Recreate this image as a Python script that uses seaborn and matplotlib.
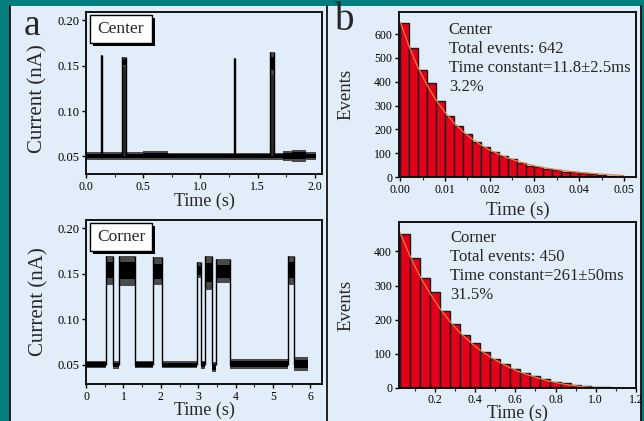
import matplotlib
matplotlib.use("Agg")
import matplotlib.pyplot as plt
import numpy as np
import seaborn as sns
from matplotlib.patches import Rectangle
from matplotlib.lines import Line2D
from matplotlib.ticker import MultipleLocator, FormatStrFormatter

# ---- data ----
# histogram, Center (bin width 2 ms)
center_edges = [i * 0.002 for i in range(26)]
center_counts = [645, 541, 450, 394, 320, 257, 213, 180, 145, 128, 106, 90, 74,
                 60, 48, 40, 35, 28, 22, 19, 18, 11, 10, 4, 2]
center_fit_t = [0.0, 0.002, 0.004, 0.006, 0.008, 0.010, 0.012, 0.014, 0.016, 0.018,
                0.020, 0.024, 0.028, 0.032, 0.036, 0.040, 0.045, 0.050]
center_fit_y = [650, 546, 458, 385, 323, 271, 227, 191, 160, 135,
                113, 80, 56, 39, 28, 19, 12, 6]

# histogram, Corner (bin width 50 ms)
corner_edges = [0.025 + i * 0.05 for i in range(25)]
corner_counts = [451, 382, 323, 280, 226, 188, 155, 132, 104, 84, 71, 57,
                 45, 34, 26, 19, 16, 10, 5, 3, 2, 1, 1, 1]
corner_fit_t = [0.025, 0.075, 0.125, 0.175, 0.225, 0.275, 0.325, 0.375, 0.425, 0.475,
                0.525, 0.575, 0.625, 0.675, 0.725, 0.775, 0.825, 0.875, 0.925, 0.975,
                1.025, 1.1, 1.2]
corner_fit_y = [458, 388, 328, 278, 233, 195, 162, 135, 111, 91,
                74, 59, 46, 36, 27, 19, 13, 8, 5, 2, 1, 0.5, 0]

# current traces: baseline segments (start, end, low, high)
center_base = [(0.0, 0.50, 0.0465, 0.0545), (0.50, 0.72, 0.0460, 0.0555),
               (0.72, 1.72, 0.0465, 0.0540), (1.72, 1.80, 0.0450, 0.0560),
               (1.80, 1.92, 0.0440, 0.0575), (1.92, 2.015, 0.0460, 0.0545)]
# events (rise, fall, plateau low, plateau high)
center_events = [(0.128, 0.141, 0.146, 0.162), (0.318, 0.346, 0.148, 0.160),
                 (1.291, 1.304, 0.148, 0.158), (1.612, 1.646, 0.140, 0.165)]

corner_base = [(0.0, 0.54, 0.0460, 0.0545), (0.73, 0.87, 0.0455, 0.0540),
               (1.31, 1.78, 0.0460, 0.0545), (2.03, 2.96, 0.0460, 0.0540),
               (3.07, 3.17, 0.0455, 0.0545), (3.37, 3.48, 0.0420, 0.0530),
               (3.86, 5.39, 0.0455, 0.0560), (5.55, 5.93, 0.0435, 0.0580)]
corner_events = [(0.54, 0.73, 0.138, 0.170), (0.87, 1.31, 0.137, 0.170),
                 (1.78, 2.03, 0.138, 0.168), (2.96, 3.07, 0.145, 0.163),
                 (3.17, 3.37, 0.132, 0.170), (3.48, 3.86, 0.140, 0.166),
                 (5.39, 5.55, 0.138, 0.170)]

center_note = "Center\nTotal events: 642\nTime constant=11.8\u00b12.5ms\n3.2%"
corner_note = "Corner\nTotal events: 450\nTime constant=261\u00b150ms\n31.5%"

TEAL = "#027f7e"
BG = "#e1edf9"
RED = "#e2001b"
FIT = "#f07a3c"

sns.set_theme(style="ticks")
plt.rcParams["font.family"] = ["Liberation Serif", "DejaVu Serif"]
plt.rcParams["axes.linewidth"] = 1.3
plt.rcParams["xtick.major.width"] = 1.0
plt.rcParams["ytick.major.width"] = 1.0

W, H = 644, 421
fig = plt.figure(figsize=(W / 100, H / 100), dpi=100)
fig.patch.set_facecolor(TEAL)

# light panel + frame lines
fig.add_artist(Rectangle((10 / W, 0), 631 / W, 1 - 6 / H, transform=fig.transFigure,
                         facecolor=BG, edgecolor="none", zorder=0))
for xp in (10, 327, 641):
    fig.add_artist(Line2D([xp / W, xp / W], [0, 1 - 6 / H], transform=fig.transFigure,
                          color="black", lw=1.2))


def px_axes(x0, y0, x1, y1):
    ax = fig.add_axes([x0 / W, 1 - y1 / H, (x1 - x0) / W, (y1 - y0) / H])
    ax.set_facecolor(BG)
    for s in ax.spines.values():
        s.set_visible(True)
        s.set_color("black")
    ax.tick_params(direction="out", length=3, width=1, colors="black", pad=2)
    ax.tick_params(which="minor", direction="out", length=2, width=0.8)
    return ax


def band(ax, t0, t1, lo, hi):
    # fuzzy outer noise envelope plus a dark core
    mid, half = (lo + hi) / 2, (hi - lo) / 2
    ax.fill_between([t0, t1], [lo, lo], [hi, hi], color="#4a4a4a", lw=0)
    ax.fill_between([t0, t1], [mid - 0.55 * half] * 2, [mid + 0.55 * half] * 2,
                    color="black", lw=0)


def draw_trace(ax, base, events, solid=False):
    for t0, t1, lo, hi in base:
        band(ax, t0, t1, lo, hi)
    for t0, t1, lo, hi in events:
        band(ax, t0, t1, lo, hi)
        if solid:
            ax.fill_between([t0, t1], [0.05, 0.05], [lo, lo], color="#2a2a2a", lw=0)
        ax.vlines([t0, t1], 0.050, hi, color="black", lw=1.0)


def tag_box(ax, label, w_px, h_px):
    x0, y_top = 4 / w_px, 1 - 3 / h_px
    bw, bh = 62 / w_px, 28 / h_px
    ax.add_patch(Rectangle((x0 + 3 / w_px, y_top - bh - 3 / h_px), bw, bh,
                           transform=ax.transAxes, facecolor="black", edgecolor="none", zorder=5))
    ax.add_patch(Rectangle((x0, y_top - bh), bw, bh, transform=ax.transAxes,
                           facecolor="white", edgecolor="black", lw=1, zorder=6))
    ax.text(x0 + bw / 2, y_top - bh / 2, label, transform=ax.transAxes, fontsize=12.5,
            ha="center", va="center", zorder=7)


# ---- panel a ----
ax1 = px_axes(86, 12, 322, 174)
draw_trace(ax1, center_base, center_events, solid=True)
ax1.set_xlim(0, 2.064)
ax1.set_ylim(0.0307, 0.209)
ax1.xaxis.set_major_locator(MultipleLocator(0.5))
ax1.xaxis.set_minor_locator(MultipleLocator(0.25))
ax1.xaxis.set_major_formatter(FormatStrFormatter("%.1f"))
ax1.set_yticks([0.05, 0.10, 0.15, 0.20])
ax1.yaxis.set_major_formatter(FormatStrFormatter("%.2f"))
ax1.tick_params(axis="x", labelsize=8.5)
ax1.tick_params(axis="y", labelsize=9)
ax1.set_xlabel("Time (s)", fontsize=13, labelpad=0)
ax1.set_ylabel("Current (nA)", fontsize=15)
ax1.yaxis.set_label_coords(-0.165, 0.465)
tag_box(ax1, "Center", 236, 162)

ax2 = px_axes(86, 220, 322, 384)
draw_trace(ax2, corner_base, corner_events)
ax2.set_xlim(0, 6.31)
ax2.set_ylim(0.0288, 0.2091)
ax2.xaxis.set_major_locator(MultipleLocator(1))
ax2.xaxis.set_minor_locator(MultipleLocator(0.5))
ax2.set_yticks([0.05, 0.10, 0.15, 0.20])
ax2.yaxis.set_major_formatter(FormatStrFormatter("%.2f"))
ax2.tick_params(axis="x", labelsize=8.5)
ax2.tick_params(axis="y", labelsize=9)
ax2.set_xlabel("Time (s)", fontsize=13, labelpad=-1)
ax2.set_ylabel("Current (nA)", fontsize=15)
ax2.yaxis.set_label_coords(-0.16, 0.5)
tag_box(ax2, "Corner", 236, 164)

# ---- panel b ----
ax3 = px_axes(399, 12, 636, 177)
centers_c = [(a + b) / 2 for a, b in zip(center_edges[:-1], center_edges[1:])]
sns.histplot(x=centers_c, weights=center_counts, bins=center_edges, ax=ax3,
             color=RED, edgecolor="#1c1c1c", linewidth=1.0, alpha=1)
sns.lineplot(x=center_fit_t, y=center_fit_y, ax=ax3, color=FIT, lw=0.9)
ax3.set_xlim(-0.0003, 0.0527)
ax3.set_ylim(0, 693)
ax3.xaxis.set_major_locator(MultipleLocator(0.01))
ax3.xaxis.set_minor_locator(MultipleLocator(0.005))
ax3.xaxis.set_major_formatter(FormatStrFormatter("%.2f"))
ax3.yaxis.set_major_locator(MultipleLocator(100))
ax3.tick_params(labelsize=8.5)
ax3.set_xlabel("Time (s)", fontsize=13.5, labelpad=4)
ax3.set_ylabel("Events", fontsize=13.5)
ax3.yaxis.set_label_coords(-0.19, 0.5)
ax3.text(0.21, 0.94, center_note, transform=ax3.transAxes, fontsize=12,
         ha="left", va="top", linespacing=1.25)

ax4 = px_axes(399, 222, 636, 388)
centers_k = [(a + b) / 2 for a, b in zip(corner_edges[:-1], corner_edges[1:])]
sns.histplot(x=centers_k, weights=corner_counts, bins=corner_edges, ax=ax4,
             color=RED, edgecolor="#1c1c1c", linewidth=1.0, alpha=1)
sns.lineplot(x=corner_fit_t, y=corner_fit_y, ax=ax4, color=FIT, lw=0.9)
ax4.set_xlim(0.022, 1.2)
ax4.set_ylim(0, 486)
ax4.xaxis.set_major_locator(MultipleLocator(0.2))
ax4.xaxis.set_minor_locator(MultipleLocator(0.1))
ax4.xaxis.set_major_formatter(FormatStrFormatter("%.1f"))
ax4.yaxis.set_major_locator(MultipleLocator(100))
ax4.tick_params(labelsize=8.5)
ax4.tick_params(axis="x", pad=1)
ax4.set_xlabel("Time (s)", fontsize=13, labelpad=-0.5)
ax4.set_ylabel("Events", fontsize=13.5)
ax4.yaxis.set_label_coords(-0.19, 0.5)
ax4.text(0.215, 0.95, corner_note, transform=ax4.transAxes, fontsize=12,
         ha="left", va="top", linespacing=1.25)

# panel letters
fig.text(32 / W, 1 - 26 / H, "a", fontsize=27, ha="center", va="center")
fig.text(345 / W, 1 - 20 / H, "b", fontsize=28, ha="center", va="center")

fig.savefig("out.png", dpi=100, facecolor=TEAL)
